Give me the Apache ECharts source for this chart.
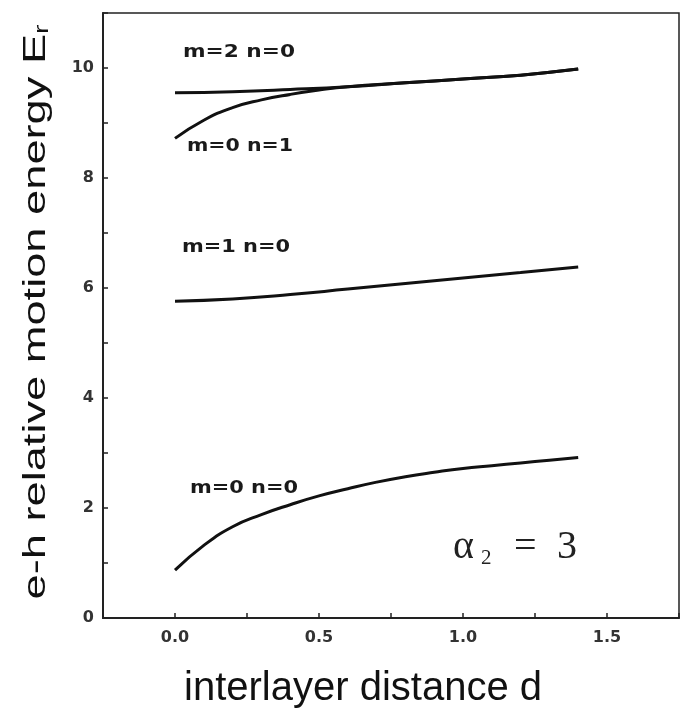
<!DOCTYPE html>
<html>
<head>
<meta charset="utf-8">
<script src="https://cdn.jsdelivr.net/npm/echarts@6/dist/echarts.min.js"></script>
<style>html,body{margin:0;padding:0;background:#fff}#c{width:688px;height:711px}</style>
</head>
<body>
<div id="c"></div>
<script>
const dM0N0 = [0,0.1,0.2,0.3,0.4,0.5,0.6,0.7,0.8,0.9,1.0,1.1,1.2,1.3,1.4];
const eM0N0 = [0.87,1.32,1.66,1.88,2.06,2.22,2.35,2.47,2.57,2.65,2.72,2.77,2.82,2.87,2.92];
const dM1N0 = [0,0.2,0.4,0.6,0.8,1.0,1.2,1.4];
const eM1N0 = [5.76,5.80,5.88,5.98,6.08,6.18,6.28,6.38];
const dM0N1 = [0,0.1,0.2,0.3,0.4,0.5,0.6,0.8,1.0,1.2,1.4];
const eM0N1 = [8.72,9.05,9.28,9.42,9.52,9.60,9.66,9.73,9.80,9.87,9.98];
const dM2N0 = [0,0.2,0.4,0.6,0.8,1.0,1.2,1.4];
const eM2N0 = [9.55,9.57,9.61,9.66,9.73,9.80,9.87,9.98];
const curveLabels = ['m=0 n=0','m=1 n=0','m=0 n=1','m=2 n=0'];
const xTickLabels = ['0.0','0.5','1.0','1.5'];
const yTickLabels = ['0','2','4','6','8','10'];
const xTitle = 'interlayer distance d';
const yTitleMain = 'e-h relative motion energy E';
const yTitleSub = 'r';

const zip = (a,b)=>a.map((v,i)=>[v,b[i]]);
const cv = document.createElement('canvas').getContext('2d');
function measure(text, font){ cv.font = font; return cv.measureText(text).width; }

const chart = echarts.init(document.getElementById('c'));
const lineS = (name,d,e)=>({name,type:'line',data:zip(d,e),showSymbol:false,smooth:true,
  lineStyle:{color:'#111',width:3},itemStyle:{color:'#111'}});

const lblFont = 'bold 18px "DejaVu Sans"';
function curveLabel(text, x, y, targetW){
  const w = measure(text, lblFont);
  return {type:'text', x:x, y:y, scaleX: targetW / w,
    style:{text:text, font:lblFont, fill:'#1a1a1a', textAlign:'left', verticalAlign:'middle'}};
}
const yMainFont = '32px "Liberation Sans"';
const ySubFont = '20px "Liberation Sans"';
const yW = measure(yTitleMain, yMainFont) + measure(yTitleSub, ySubFont);
const yScale = 575 / yW;

chart.setOption({
  animation:false,
  backgroundColor:'#fff',
  grid:{left:103,right:9,top:13,bottom:93,show:true,borderColor:'#222',borderWidth:1.5},
  xAxis:{type:'value',min:-0.25,max:1.75,interval:0.25,
    axisLine:{onZero:false,lineStyle:{color:'#222',width:2}},
    axisTick:{inside:true,length:5,lineStyle:{color:'#222',width:1.5}},
    splitLine:{show:false},
    axisLabel:{margin:12,fontFamily:'DejaVu Sans',fontWeight:'bold',fontSize:16,color:'#333',
      formatter:v=>{const s=v.toFixed(1);return (Math.abs(v*2-Math.round(v*2))<1e-6 && xTickLabels.includes(s))?s:'';}}
  },
  yAxis:{type:'value',min:0,max:11,interval:1,
    axisLine:{onZero:false,lineStyle:{color:'#222',width:2}},
    axisTick:{inside:true,length:5,lineStyle:{color:'#222',width:1.5}},
    splitLine:{show:false},
    axisLabel:{margin:9,fontFamily:'DejaVu Sans',fontWeight:'bold',fontSize:16,color:'#333',
      formatter:v=>{const s=String(v);return yTickLabels.includes(s)?s:'';}}
  },
  series:[lineS(curveLabels[0],dM0N0,eM0N0),lineS(curveLabels[1],dM1N0,eM1N0),
          lineS(curveLabels[2],dM0N1,eM0N1),lineS(curveLabels[3],dM2N0,eM2N0)],
  graphic:[
    curveLabel(curveLabels[3],183,52,112),
    curveLabel(curveLabels[2],187,146,106),
    curveLabel(curveLabels[1],182,247,108),
    curveLabel(curveLabels[0],190,488,108),
    {type:'text',x:363,y:689,style:{text:xTitle,font:'40px "Liberation Sans"',fill:'#111',
      textAlign:'center',verticalAlign:'middle'}},
    {type:'text',x:36,y:312,rotation:Math.PI/2,scaleX:yScale,
      style:{text:'{a|'+yTitleMain+'}{b|'+yTitleSub+'}',textAlign:'center',verticalAlign:'middle',
        rich:{a:{fontFamily:'Liberation Sans',fontSize:32,fill:'#111'},
              b:{fontFamily:'Liberation Sans',fontSize:20,fill:'#111',padding:[12,0,0,0]}}}},
    {type:'text',x:453,y:547,style:{text:'\u03b1',font:'40px "Liberation Serif"',fill:'#222',textAlign:'left',verticalAlign:'middle'}},
    {type:'text',x:481,y:558,style:{text:'2',font:'21px "Liberation Serif"',fill:'#222',textAlign:'left',verticalAlign:'middle'}},
    {type:'text',x:514,y:547,style:{text:'=',font:'40px "Liberation Serif"',fill:'#222',textAlign:'left',verticalAlign:'middle'}},
    {type:'text',x:557,y:547,style:{text:'3',font:'40px "Liberation Serif"',fill:'#222',textAlign:'left',verticalAlign:'middle'}}
  ]
});
</script>
</body>
</html>
